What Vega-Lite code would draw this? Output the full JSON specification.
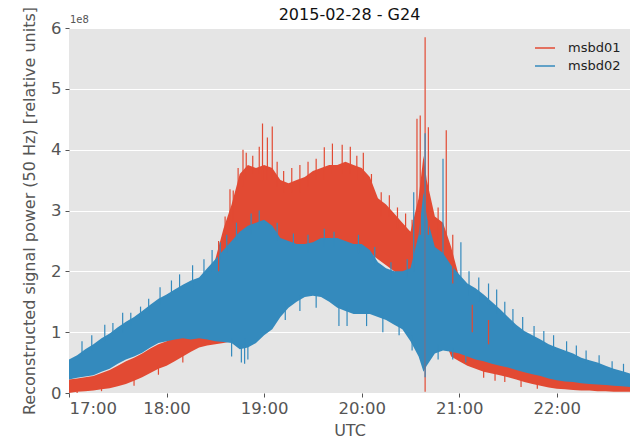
{
  "$schema": "https://vega.github.io/schema/vega-lite/v6.json",
  "width": 561,
  "height": 365,
  "autosize": {"type": "none"},
  "padding": {"left": 69, "top": 28, "right": 11, "bottom": 50},
  "background": "#ffffff",
  "title": {"text": "2015-02-28 - G24", "fontSize": 16, "font": "DejaVu Sans", "fontWeight": "normal", "color": "#111111", "offset": 0, "dy": 17},
  "config": {
    "view": {"fill": "#E5E5E5", "stroke": null},
    "axis": {
      "gridColor": "#ffffff", "gridWidth": 1.2, "domain": false,
      "tickColor": "#555555", "tickSize": 4, "labelColor": "#555555", "labelFontSize": 16.5,
      "labelFont": "DejaVu Sans", "titleFont": "DejaVu Sans", "titleFontSize": 16,
      "titleColor": "#555555", "titleFontWeight": "normal"
    }
  },
  "datasets": {
    "band": [
      {"minute": 0, "series": "msbd01", "lo": 0.0, "hi": 0.22},
      {"minute": 5, "series": "msbd01", "lo": 0.02, "hi": 0.24},
      {"minute": 10, "series": "msbd01", "lo": 0.03, "hi": 0.26},
      {"minute": 15, "series": "msbd01", "lo": 0.04, "hi": 0.28},
      {"minute": 20, "series": "msbd01", "lo": 0.06, "hi": 0.33},
      {"minute": 25, "series": "msbd01", "lo": 0.08, "hi": 0.38},
      {"minute": 30, "series": "msbd01", "lo": 0.11, "hi": 0.45},
      {"minute": 35, "series": "msbd01", "lo": 0.15, "hi": 0.52},
      {"minute": 40, "series": "msbd01", "lo": 0.2, "hi": 0.58},
      {"minute": 45, "series": "msbd01", "lo": 0.26, "hi": 0.65},
      {"minute": 50, "series": "msbd01", "lo": 0.33, "hi": 0.73},
      {"minute": 55, "series": "msbd01", "lo": 0.4, "hi": 0.8},
      {"minute": 60, "series": "msbd01", "lo": 0.45, "hi": 0.85},
      {"minute": 65, "series": "msbd01", "lo": 0.52, "hi": 0.92},
      {"minute": 70, "series": "msbd01", "lo": 0.6, "hi": 0.98},
      {"minute": 75, "series": "msbd01", "lo": 0.68, "hi": 1.02},
      {"minute": 80, "series": "msbd01", "lo": 0.75, "hi": 1.1},
      {"minute": 85, "series": "msbd01", "lo": 0.78, "hi": 1.4},
      {"minute": 90, "series": "msbd01", "lo": 0.8, "hi": 2.2},
      {"minute": 95, "series": "msbd01", "lo": 0.82, "hi": 2.7},
      {"minute": 100, "series": "msbd01", "lo": 0.85, "hi": 3.1},
      {"minute": 105, "series": "msbd01", "lo": 0.9, "hi": 3.6},
      {"minute": 110, "series": "msbd01", "lo": 1.0, "hi": 3.75},
      {"minute": 115, "series": "msbd01", "lo": 1.1, "hi": 3.7},
      {"minute": 120, "series": "msbd01", "lo": 1.3, "hi": 3.75},
      {"minute": 125, "series": "msbd01", "lo": 1.5, "hi": 3.7},
      {"minute": 130, "series": "msbd01", "lo": 1.8, "hi": 3.5},
      {"minute": 135, "series": "msbd01", "lo": 2.0, "hi": 3.45},
      {"minute": 140, "series": "msbd01", "lo": 2.3, "hi": 3.5},
      {"minute": 145, "series": "msbd01", "lo": 2.4, "hi": 3.55},
      {"minute": 150, "series": "msbd01", "lo": 2.4, "hi": 3.65},
      {"minute": 155, "series": "msbd01", "lo": 2.4, "hi": 3.7},
      {"minute": 160, "series": "msbd01", "lo": 2.4, "hi": 3.75},
      {"minute": 165, "series": "msbd01", "lo": 2.4, "hi": 3.75},
      {"minute": 170, "series": "msbd01", "lo": 2.4, "hi": 3.8},
      {"minute": 175, "series": "msbd01", "lo": 2.4, "hi": 3.75},
      {"minute": 180, "series": "msbd01", "lo": 2.35, "hi": 3.7},
      {"minute": 185, "series": "msbd01", "lo": 2.3, "hi": 3.55},
      {"minute": 190, "series": "msbd01", "lo": 2.2, "hi": 3.2},
      {"minute": 195, "series": "msbd01", "lo": 2.1, "hi": 3.1},
      {"minute": 200, "series": "msbd01", "lo": 2.0, "hi": 2.95},
      {"minute": 205, "series": "msbd01", "lo": 1.9, "hi": 2.8},
      {"minute": 210, "series": "msbd01", "lo": 1.7, "hi": 2.65},
      {"minute": 215, "series": "msbd01", "lo": 1.5, "hi": 3.2},
      {"minute": 218, "series": "msbd01", "lo": 0.5, "hi": 3.9},
      {"minute": 220, "series": "msbd01", "lo": 0.8, "hi": 3.5},
      {"minute": 225, "series": "msbd01", "lo": 0.9, "hi": 2.9},
      {"minute": 230, "series": "msbd01", "lo": 0.95, "hi": 2.8},
      {"minute": 235, "series": "msbd01", "lo": 0.6, "hi": 2.4},
      {"minute": 240, "series": "msbd01", "lo": 0.52, "hi": 1.9},
      {"minute": 245, "series": "msbd01", "lo": 0.45, "hi": 1.5},
      {"minute": 250, "series": "msbd01", "lo": 0.4, "hi": 1.3},
      {"minute": 255, "series": "msbd01", "lo": 0.35, "hi": 1.15},
      {"minute": 260, "series": "msbd01", "lo": 0.32, "hi": 1.0},
      {"minute": 265, "series": "msbd01", "lo": 0.29, "hi": 0.9},
      {"minute": 270, "series": "msbd01", "lo": 0.26, "hi": 0.82},
      {"minute": 275, "series": "msbd01", "lo": 0.22, "hi": 0.75},
      {"minute": 280, "series": "msbd01", "lo": 0.18, "hi": 0.68},
      {"minute": 285, "series": "msbd01", "lo": 0.15, "hi": 0.6},
      {"minute": 290, "series": "msbd01", "lo": 0.12, "hi": 0.52},
      {"minute": 295, "series": "msbd01", "lo": 0.09, "hi": 0.45},
      {"minute": 300, "series": "msbd01", "lo": 0.07, "hi": 0.4},
      {"minute": 305, "series": "msbd01", "lo": 0.06, "hi": 0.35},
      {"minute": 310, "series": "msbd01", "lo": 0.05, "hi": 0.3},
      {"minute": 315, "series": "msbd01", "lo": 0.04, "hi": 0.27},
      {"minute": 320, "series": "msbd01", "lo": 0.04, "hi": 0.24},
      {"minute": 325, "series": "msbd01", "lo": 0.03, "hi": 0.22},
      {"minute": 330, "series": "msbd01", "lo": 0.03, "hi": 0.2},
      {"minute": 335, "series": "msbd01", "lo": 0.02, "hi": 0.18},
      {"minute": 340, "series": "msbd01", "lo": 0.02, "hi": 0.16},
      {"minute": 345, "series": "msbd01", "lo": 0.02, "hi": 0.14},

      {"minute": 0, "series": "msbd02", "lo": 0.22, "hi": 0.55},
      {"minute": 5, "series": "msbd02", "lo": 0.25, "hi": 0.62},
      {"minute": 10, "series": "msbd02", "lo": 0.27, "hi": 0.72},
      {"minute": 15, "series": "msbd02", "lo": 0.29, "hi": 0.8},
      {"minute": 20, "series": "msbd02", "lo": 0.35, "hi": 0.9},
      {"minute": 25, "series": "msbd02", "lo": 0.4, "hi": 0.98},
      {"minute": 30, "series": "msbd02", "lo": 0.48, "hi": 1.08},
      {"minute": 35, "series": "msbd02", "lo": 0.55, "hi": 1.17},
      {"minute": 40, "series": "msbd02", "lo": 0.6, "hi": 1.25},
      {"minute": 45, "series": "msbd02", "lo": 0.66, "hi": 1.35},
      {"minute": 50, "series": "msbd02", "lo": 0.75, "hi": 1.45},
      {"minute": 55, "series": "msbd02", "lo": 0.82, "hi": 1.55},
      {"minute": 60, "series": "msbd02", "lo": 0.85, "hi": 1.62},
      {"minute": 65, "series": "msbd02", "lo": 0.88, "hi": 1.7},
      {"minute": 70, "series": "msbd02", "lo": 0.9, "hi": 1.78},
      {"minute": 75, "series": "msbd02", "lo": 0.88, "hi": 1.85},
      {"minute": 80, "series": "msbd02", "lo": 0.9, "hi": 1.9},
      {"minute": 85, "series": "msbd02", "lo": 0.88, "hi": 2.05},
      {"minute": 90, "series": "msbd02", "lo": 0.85, "hi": 2.2},
      {"minute": 95, "series": "msbd02", "lo": 0.84, "hi": 2.35},
      {"minute": 100, "series": "msbd02", "lo": 0.82, "hi": 2.5},
      {"minute": 105, "series": "msbd02", "lo": 0.72, "hi": 2.65},
      {"minute": 110, "series": "msbd02", "lo": 0.75, "hi": 2.75},
      {"minute": 115, "series": "msbd02", "lo": 0.82, "hi": 2.8},
      {"minute": 120, "series": "msbd02", "lo": 0.95, "hi": 2.85},
      {"minute": 125, "series": "msbd02", "lo": 1.05, "hi": 2.75},
      {"minute": 130, "series": "msbd02", "lo": 1.25, "hi": 2.55},
      {"minute": 135, "series": "msbd02", "lo": 1.4, "hi": 2.5},
      {"minute": 140, "series": "msbd02", "lo": 1.5, "hi": 2.45},
      {"minute": 145, "series": "msbd02", "lo": 1.58, "hi": 2.45},
      {"minute": 150, "series": "msbd02", "lo": 1.6, "hi": 2.48},
      {"minute": 155, "series": "msbd02", "lo": 1.58, "hi": 2.55},
      {"minute": 160, "series": "msbd02", "lo": 1.5, "hi": 2.55},
      {"minute": 165, "series": "msbd02", "lo": 1.4, "hi": 2.55},
      {"minute": 170, "series": "msbd02", "lo": 1.35, "hi": 2.5},
      {"minute": 175, "series": "msbd02", "lo": 1.3, "hi": 2.45},
      {"minute": 180, "series": "msbd02", "lo": 1.3, "hi": 2.45},
      {"minute": 185, "series": "msbd02", "lo": 1.3, "hi": 2.35},
      {"minute": 190, "series": "msbd02", "lo": 1.25, "hi": 2.15},
      {"minute": 195, "series": "msbd02", "lo": 1.2, "hi": 2.05},
      {"minute": 200, "series": "msbd02", "lo": 1.12, "hi": 2.0},
      {"minute": 205, "series": "msbd02", "lo": 1.05, "hi": 2.0},
      {"minute": 210, "series": "msbd02", "lo": 0.85, "hi": 2.05},
      {"minute": 215, "series": "msbd02", "lo": 0.6, "hi": 2.6},
      {"minute": 218, "series": "msbd02", "lo": 0.35, "hi": 3.3},
      {"minute": 220, "series": "msbd02", "lo": 0.45, "hi": 2.9},
      {"minute": 225, "series": "msbd02", "lo": 0.65, "hi": 2.4},
      {"minute": 230, "series": "msbd02", "lo": 0.7, "hi": 2.3},
      {"minute": 235, "series": "msbd02", "lo": 0.68, "hi": 2.1},
      {"minute": 240, "series": "msbd02", "lo": 0.65, "hi": 1.95},
      {"minute": 245, "series": "msbd02", "lo": 0.6, "hi": 1.8},
      {"minute": 250, "series": "msbd02", "lo": 0.55, "hi": 1.72},
      {"minute": 255, "series": "msbd02", "lo": 0.52, "hi": 1.62},
      {"minute": 260, "series": "msbd02", "lo": 0.48, "hi": 1.5},
      {"minute": 265, "series": "msbd02", "lo": 0.45, "hi": 1.38},
      {"minute": 270, "series": "msbd02", "lo": 0.42, "hi": 1.25},
      {"minute": 275, "series": "msbd02", "lo": 0.38, "hi": 1.12},
      {"minute": 280, "series": "msbd02", "lo": 0.34, "hi": 1.02},
      {"minute": 285, "series": "msbd02", "lo": 0.31, "hi": 0.95},
      {"minute": 290, "series": "msbd02", "lo": 0.28, "hi": 0.88},
      {"minute": 295, "series": "msbd02", "lo": 0.24, "hi": 0.8},
      {"minute": 300, "series": "msbd02", "lo": 0.21, "hi": 0.75},
      {"minute": 305, "series": "msbd02", "lo": 0.19, "hi": 0.7},
      {"minute": 310, "series": "msbd02", "lo": 0.18, "hi": 0.65},
      {"minute": 315, "series": "msbd02", "lo": 0.16, "hi": 0.58},
      {"minute": 320, "series": "msbd02", "lo": 0.15, "hi": 0.54},
      {"minute": 325, "series": "msbd02", "lo": 0.14, "hi": 0.5},
      {"minute": 330, "series": "msbd02", "lo": 0.13, "hi": 0.45},
      {"minute": 335, "series": "msbd02", "lo": 0.12, "hi": 0.4},
      {"minute": 340, "series": "msbd02", "lo": 0.11, "hi": 0.36},
      {"minute": 345, "series": "msbd02", "lo": 0.1, "hi": 0.32}
    ],
    "spikes": [
      {"minute": 5, "series": "msbd01", "lo": 0.0, "hi": 0.05},
      {"minute": 20, "series": "msbd01", "lo": 0.03, "hi": 0.08},
      {"minute": 40, "series": "msbd01", "lo": 0.12, "hi": 0.25},
      {"minute": 55, "series": "msbd01", "lo": 0.3, "hi": 0.45},
      {"minute": 70, "series": "msbd01", "lo": 0.5, "hi": 0.65},
      {"minute": 92, "series": "msbd01", "lo": 2.0, "hi": 2.5},
      {"minute": 96, "series": "msbd01", "lo": 2.5, "hi": 2.9},
      {"minute": 99, "series": "msbd01", "lo": 2.7, "hi": 3.35},
      {"minute": 101, "series": "msbd01", "lo": 2.8, "hi": 3.33},
      {"minute": 104, "series": "msbd01", "lo": 3.3, "hi": 3.7},
      {"minute": 107, "series": "msbd01", "lo": 3.4, "hi": 4.0},
      {"minute": 109, "series": "msbd01", "lo": 3.5, "hi": 3.95},
      {"minute": 113, "series": "msbd01", "lo": 3.6, "hi": 3.9},
      {"minute": 117, "series": "msbd01", "lo": 3.6, "hi": 4.05},
      {"minute": 119, "series": "msbd01", "lo": 3.5, "hi": 4.43},
      {"minute": 122, "series": "msbd01", "lo": 3.5, "hi": 4.2},
      {"minute": 125, "series": "msbd01", "lo": 3.5, "hi": 4.38},
      {"minute": 128, "series": "msbd01", "lo": 3.4, "hi": 3.8},
      {"minute": 132, "series": "msbd01", "lo": 3.3, "hi": 3.65},
      {"minute": 137, "series": "msbd01", "lo": 3.3, "hi": 3.7},
      {"minute": 142, "series": "msbd01", "lo": 3.3, "hi": 3.75},
      {"minute": 147, "series": "msbd01", "lo": 3.4, "hi": 3.8},
      {"minute": 152, "series": "msbd01", "lo": 3.5, "hi": 3.85},
      {"minute": 157, "series": "msbd01", "lo": 3.5, "hi": 4.04},
      {"minute": 162, "series": "msbd01", "lo": 3.6, "hi": 4.1},
      {"minute": 168, "series": "msbd01", "lo": 3.6, "hi": 4.08},
      {"minute": 173, "series": "msbd01", "lo": 3.6, "hi": 4.05},
      {"minute": 177, "series": "msbd01", "lo": 3.5, "hi": 3.9},
      {"minute": 181, "series": "msbd01", "lo": 3.5, "hi": 3.95},
      {"minute": 186, "series": "msbd01", "lo": 3.2, "hi": 3.6},
      {"minute": 192, "series": "msbd01", "lo": 2.9, "hi": 3.3},
      {"minute": 197, "series": "msbd01", "lo": 2.9, "hi": 3.25},
      {"minute": 202, "series": "msbd01", "lo": 2.7, "hi": 3.05},
      {"minute": 207, "series": "msbd01", "lo": 2.6, "hi": 2.95},
      {"minute": 211, "series": "msbd01", "lo": 2.5, "hi": 2.85},
      {"minute": 214, "series": "msbd01", "lo": 2.6, "hi": 4.51},
      {"minute": 216, "series": "msbd01", "lo": 2.6, "hi": 4.56},
      {"minute": 219, "series": "msbd01", "lo": 0.02, "hi": 5.85},
      {"minute": 221, "series": "msbd01", "lo": 2.6, "hi": 4.37},
      {"minute": 227, "series": "msbd01", "lo": 2.5, "hi": 3.05},
      {"minute": 232, "series": "msbd01", "lo": 2.4, "hi": 4.32},
      {"minute": 236, "series": "msbd01", "lo": 1.8, "hi": 2.6},
      {"minute": 248, "series": "msbd01", "lo": 1.0, "hi": 1.45},
      {"minute": 255, "series": "msbd01", "lo": 0.25, "hi": 0.4},
      {"minute": 258, "series": "msbd01", "lo": 0.8, "hi": 1.2},
      {"minute": 262, "series": "msbd01", "lo": 0.2, "hi": 0.35},
      {"minute": 268, "series": "msbd01", "lo": 0.18, "hi": 0.3},
      {"minute": 278, "series": "msbd01", "lo": 0.1, "hi": 0.22},
      {"minute": 288, "series": "msbd01", "lo": 0.07, "hi": 0.18},

      {"minute": 8, "series": "msbd02", "lo": 0.6, "hi": 0.85},
      {"minute": 14, "series": "msbd02", "lo": 0.7, "hi": 0.95},
      {"minute": 22, "series": "msbd02", "lo": 0.85, "hi": 1.12},
      {"minute": 27, "series": "msbd02", "lo": 0.9, "hi": 1.15},
      {"minute": 33, "series": "msbd02", "lo": 1.0, "hi": 1.32},
      {"minute": 38, "series": "msbd02", "lo": 1.1, "hi": 1.32},
      {"minute": 44, "series": "msbd02", "lo": 1.2, "hi": 1.42},
      {"minute": 49, "series": "msbd02", "lo": 1.3, "hi": 1.55},
      {"minute": 56, "series": "msbd02", "lo": 1.45, "hi": 1.74},
      {"minute": 63, "series": "msbd02", "lo": 1.6, "hi": 1.85},
      {"minute": 68, "series": "msbd02", "lo": 1.65, "hi": 1.95},
      {"minute": 76, "series": "msbd02", "lo": 1.7, "hi": 2.1},
      {"minute": 83, "series": "msbd02", "lo": 1.9, "hi": 2.2},
      {"minute": 88, "series": "msbd02", "lo": 2.0, "hi": 2.35},
      {"minute": 93, "series": "msbd02", "lo": 2.2, "hi": 2.48},
      {"minute": 97, "series": "msbd02", "lo": 2.3, "hi": 2.6},
      {"minute": 100, "series": "msbd02", "lo": 0.6, "hi": 0.9},
      {"minute": 103, "series": "msbd02", "lo": 2.5, "hi": 2.8},
      {"minute": 106, "series": "msbd02", "lo": 0.5, "hi": 0.8},
      {"minute": 108, "series": "msbd02", "lo": 0.48, "hi": 0.9},
      {"minute": 110, "series": "msbd02", "lo": 0.55, "hi": 0.8},
      {"minute": 112, "series": "msbd02", "lo": 2.6, "hi": 2.95},
      {"minute": 117, "series": "msbd02", "lo": 2.7, "hi": 3.0},
      {"minute": 128, "series": "msbd02", "lo": 2.5, "hi": 2.8},
      {"minute": 133, "series": "msbd02", "lo": 1.2, "hi": 1.5},
      {"minute": 138, "series": "msbd02", "lo": 2.4, "hi": 2.62},
      {"minute": 142, "series": "msbd02", "lo": 1.35, "hi": 1.6},
      {"minute": 147, "series": "msbd02", "lo": 2.3, "hi": 2.6},
      {"minute": 152, "series": "msbd02", "lo": 1.4, "hi": 1.62},
      {"minute": 157, "series": "msbd02", "lo": 2.4, "hi": 2.7},
      {"minute": 163, "series": "msbd02", "lo": 2.4, "hi": 2.65},
      {"minute": 166, "series": "msbd02", "lo": 1.1, "hi": 1.45},
      {"minute": 171, "series": "msbd02", "lo": 1.1, "hi": 1.4},
      {"minute": 178, "series": "msbd02", "lo": 2.3, "hi": 2.6},
      {"minute": 183, "series": "msbd02", "lo": 1.1, "hi": 1.35},
      {"minute": 188, "series": "msbd02", "lo": 2.1, "hi": 2.4},
      {"minute": 193, "series": "msbd02", "lo": 1.0, "hi": 1.3},
      {"minute": 198, "series": "msbd02", "lo": 1.9, "hi": 2.15},
      {"minute": 203, "series": "msbd02", "lo": 0.95, "hi": 1.15},
      {"minute": 208, "series": "msbd02", "lo": 1.9, "hi": 2.2},
      {"minute": 211, "series": "msbd02", "lo": 0.7, "hi": 0.95},
      {"minute": 212, "series": "msbd02", "lo": 2.0, "hi": 3.3},
      {"minute": 219, "series": "msbd02", "lo": 0.26, "hi": 4.27},
      {"minute": 227, "series": "msbd02", "lo": 0.55, "hi": 0.8},
      {"minute": 230, "series": "msbd02", "lo": 2.2, "hi": 3.85},
      {"minute": 236, "series": "msbd02", "lo": 0.55, "hi": 0.75},
      {"minute": 241, "series": "msbd02", "lo": 1.9, "hi": 2.48},
      {"minute": 244, "series": "msbd02", "lo": 0.5, "hi": 0.65},
      {"minute": 246, "series": "msbd02", "lo": 1.6, "hi": 2.0},
      {"minute": 252, "series": "msbd02", "lo": 1.5, "hi": 1.9},
      {"minute": 258, "series": "msbd02", "lo": 1.45, "hi": 1.8},
      {"minute": 263, "series": "msbd02", "lo": 1.3, "hi": 1.7},
      {"minute": 268, "series": "msbd02", "lo": 1.2, "hi": 1.5},
      {"minute": 273, "series": "msbd02", "lo": 1.05, "hi": 1.38},
      {"minute": 279, "series": "msbd02", "lo": 1.0, "hi": 1.25},
      {"minute": 286, "series": "msbd02", "lo": 0.9, "hi": 1.1},
      {"minute": 292, "series": "msbd02", "lo": 0.8, "hi": 1.02},
      {"minute": 298, "series": "msbd02", "lo": 0.7, "hi": 0.95},
      {"minute": 306, "series": "msbd02", "lo": 0.65, "hi": 0.85},
      {"minute": 312, "series": "msbd02", "lo": 0.6, "hi": 0.78},
      {"minute": 318, "series": "msbd02", "lo": 0.5, "hi": 0.7},
      {"minute": 326, "series": "msbd02", "lo": 0.45, "hi": 0.62},
      {"minute": 334, "series": "msbd02", "lo": 0.38, "hi": 0.52},
      {"minute": 341, "series": "msbd02", "lo": 0.33, "hi": 0.48}
    ],
    "note": [{"minute": 0, "value": 6, "text": "1e8"}]
  },
  "layer": [
    {
      "data": {"name": "band"},
      "mark": {"type": "area", "opacity": 1},
      "encoding": {
        "x": {
          "field": "minute", "type": "quantitative",
          "scale": {"domain": [0, 345], "nice": false, "zero": false},
          "axis": {
            "title": "UTC", "grid": false, "values": [0, 60, 120, 180, 240, 300],
            "labelExpr": "(17 + floor(datum.value / 60)) + ':00'",
            "labelPadding": 3, "titlePadding": 6
          }
        },
        "y": {
          "field": "lo", "type": "quantitative",
          "scale": {"domain": [0, 6], "nice": false},
          "axis": {
            "title": "Reconstructed signal power (50 Hz) [relative units]",
            "grid": true, "format": "d",
            "values": [0, 1, 2, 3, 4, 5, 6], "labelPadding": 4, "titlePadding": 13
          }
        },
        "y2": {"field": "hi"},
        "color": {
          "field": "series", "type": "nominal",
          "scale": {"domain": ["msbd01", "msbd02"], "range": ["#E24A33", "#348ABD"]},
          "legend": {
            "title": null, "orient": "top-right", "offset": 9,
            "symbolType": "stroke", "symbolStrokeWidth": 1.5, "symbolSize": 400,
            "labelFontSize": 13, "labelFont": "DejaVu Sans", "labelColor": "#222222",
            "labelOffset": 12, "rowPadding": 0, "padding": 0,
            "encode": {"symbols": {"update": {"stroke": {"scale": "color", "field": "value"}}}}
          }
        }
      }
    },
    {
      "data": {"name": "spikes"},
      "mark": {"type": "rule", "strokeWidth": 1.2},
      "encoding": {
        "x": {"field": "minute", "type": "quantitative"},
        "y": {"field": "lo", "type": "quantitative"},
        "y2": {"field": "hi"},
        "color": {"field": "series", "type": "nominal"}
      }
    },
    {
      "data": {"name": "note"},
      "mark": {"type": "text", "align": "left", "baseline": "bottom", "dx": 1, "dy": -3, "fontSize": 10, "font": "DejaVu Sans", "color": "#555555"},
      "encoding": {
        "x": {"field": "minute", "type": "quantitative"},
        "y": {"field": "value", "type": "quantitative"},
        "text": {"field": "text"}
      }
    }
  ]
}
